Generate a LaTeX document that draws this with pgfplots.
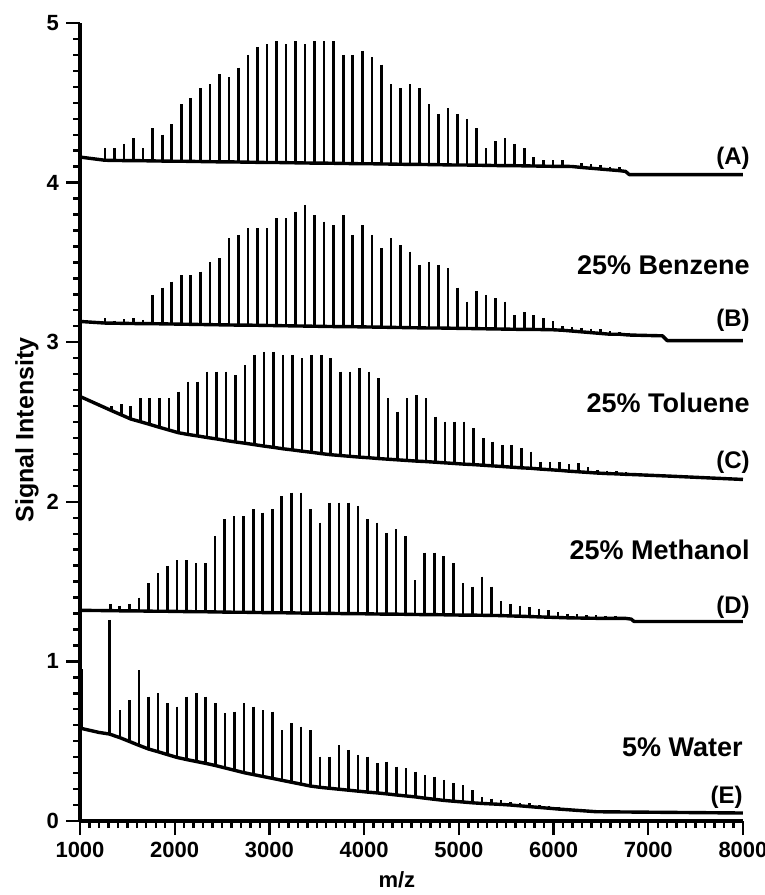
\documentclass[border=0pt]{standalone}
\usepackage{fontspec}
\setmainfont{Liberation Sans}
\usepackage{pgfplots}
\usepackage{pgfplotstable}
\pgfplotsset{compat=1.18}

% columns: x = m/z, b = baseline at the peak foot, p = peak top
\pgfplotstableread{
x b p
1000 4.160 4.160
1264 4.140 4.215
1365 4.139 4.215
1465 4.138 4.242
1566 4.138 4.277
1666 4.137 4.215
1767 4.136 4.340
1868 4.135 4.300
1968 4.134 4.365
2069 4.134 4.490
2169 4.133 4.530
2270 4.132 4.590
2371 4.131 4.615
2471 4.130 4.680
2572 4.130 4.660
2672 4.129 4.720
2773 4.128 4.800
2874 4.127 4.850
2974 4.126 4.866
3075 4.126 4.887
3175 4.125 4.866
3276 4.124 4.887
3377 4.123 4.866
3477 4.122 4.887
3578 4.122 4.887
3678 4.121 4.887
3779 4.120 4.800
3880 4.119 4.800
3980 4.118 4.825
4081 4.118 4.785
4181 4.117 4.740
4282 4.116 4.615
4383 4.115 4.590
4483 4.114 4.615
4584 4.114 4.590
4684 4.113 4.490
4785 4.112 4.430
4886 4.111 4.465
4986 4.110 4.430
5087 4.110 4.400
5187 4.109 4.340
5288 4.108 4.215
5389 4.107 4.260
5489 4.106 4.277
5590 4.106 4.242
5690 4.105 4.215
5791 4.104 4.160
5892 4.103 4.140
5992 4.102 4.140
6093 4.102 4.140
6193 4.101 4.110
6294 4.095 4.120
6394 4.090 4.115
6495 4.085 4.110
6595 4.080 4.100
6696 4.075 4.095
6760 4.070 4.070
6800 4.050 4.050
8000 4.050 4.050
}\tA

\pgfplotstableread{
x b p
1000 3.130 3.130
1264 3.120 3.150
1365 3.119 3.135
1465 3.118 3.145
1566 3.117 3.150
1666 3.116 3.140
1767 3.116 3.296
1868 3.115 3.342
1968 3.114 3.379
2069 3.113 3.421
2169 3.112 3.421
2270 3.111 3.442
2371 3.110 3.504
2471 3.109 3.525
2572 3.108 3.651
2672 3.107 3.672
2773 3.107 3.713
2874 3.106 3.713
2974 3.105 3.713
3075 3.104 3.776
3175 3.103 3.776
3276 3.102 3.818
3377 3.101 3.860
3477 3.100 3.797
3578 3.099 3.755
3678 3.098 3.734
3779 3.098 3.797
3880 3.097 3.672
3980 3.096 3.734
4081 3.095 3.672
4181 3.094 3.588
4282 3.093 3.651
4383 3.092 3.609
4483 3.091 3.567
4584 3.090 3.484
4684 3.089 3.504
4785 3.089 3.484
4886 3.088 3.463
4986 3.087 3.342
5087 3.086 3.254
5187 3.085 3.321
5288 3.084 3.296
5389 3.083 3.275
5489 3.082 3.254
5590 3.081 3.170
5690 3.080 3.187
5791 3.080 3.170
5892 3.079 3.150
5992 3.078 3.130
6093 3.075 3.100
6193 3.070 3.095
6294 3.065 3.090
6394 3.060 3.085
6495 3.055 3.080
6595 3.050 3.070
6696 3.050 3.065
6796 3.045 3.060
7150 3.040 3.040
7200 3.010 3.010
8000 3.010 3.010
}\tB

\pgfplotstableread{
x b p
1000 2.660 2.660
1334 2.571 2.600
1435 2.545 2.610
1535 2.519 2.600
1636 2.502 2.648
1736 2.485 2.648
1837 2.467 2.648
1938 2.450 2.648
2038 2.433 2.690
2139 2.422 2.753
2239 2.413 2.753
2340 2.403 2.815
2441 2.394 2.815
2541 2.384 2.815
2642 2.375 2.794
2742 2.367 2.857
2843 2.358 2.920
2944 2.349 2.940
3044 2.341 2.940
3145 2.332 2.920
3245 2.325 2.920
3346 2.317 2.899
3447 2.310 2.920
3547 2.302 2.920
3648 2.295 2.899
3748 2.290 2.815
3849 2.285 2.815
3950 2.280 2.836
4050 2.276 2.815
4151 2.271 2.774
4251 2.267 2.648
4352 2.263 2.565
4453 2.259 2.648
4553 2.255 2.669
4654 2.252 2.648
4754 2.248 2.533
4855 2.244 2.502
4956 2.240 2.502
5056 2.236 2.502
5157 2.233 2.460
5258 2.229 2.398
5358 2.225 2.377
5459 2.221 2.356
5559 2.217 2.356
5660 2.213 2.335
5761 2.210 2.314
5861 2.205 2.250
5962 2.201 2.250
6062 2.197 2.250
6163 2.192 2.235
6264 2.188 2.240
6364 2.184 2.215
6465 2.180 2.200
6565 2.177 2.195
6666 2.175 2.190
6766 2.172 2.185
6867 2.170 2.180
7260 2.160 2.160
8000 2.140 2.140
}\tC

\pgfplotstableread{
x b p
1000 1.320 1.320
1320 1.318 1.360
1420 1.317 1.350
1521 1.317 1.360
1621 1.316 1.400
1722 1.315 1.489
1823 1.314 1.552
1923 1.314 1.598
2024 1.313 1.635
2124 1.312 1.635
2225 1.311 1.615
2326 1.311 1.615
2426 1.310 1.786
2527 1.309 1.890
2627 1.308 1.911
2728 1.308 1.911
2829 1.307 1.953
2929 1.306 1.932
3030 1.305 1.953
3130 1.305 2.036
3231 1.304 2.057
3332 1.303 2.057
3432 1.302 1.953
3533 1.302 1.869
3633 1.301 1.995
3734 1.300 1.995
3835 1.299 1.995
3935 1.299 1.974
4036 1.298 1.890
4136 1.297 1.869
4237 1.296 1.806
4338 1.296 1.827
4438 1.295 1.786
4539 1.294 1.510
4639 1.293 1.681
4740 1.293 1.681
4841 1.292 1.660
4941 1.291 1.615
5042 1.290 1.489
5142 1.290 1.468
5243 1.289 1.531
5344 1.288 1.468
5444 1.287 1.380
5545 1.285 1.360
5645 1.283 1.350
5746 1.281 1.340
5846 1.279 1.330
5947 1.277 1.320
6048 1.275 1.310
6148 1.273 1.300
6249 1.272 1.295
6349 1.271 1.290
6450 1.270 1.290
6551 1.270 1.285
6651 1.270 1.285
6752 1.270 1.280
6820 1.265 1.265
6850 1.250 1.250
8000 1.250 1.250
}\tD

\pgfplotstableread{
x b p
1000 0.580 0.580
1015 0.580 0.950
1200 0.555 0.555
1310 0.545 1.260
1422 0.522 0.695
1523 0.498 0.758
1623 0.474 0.946
1724 0.451 0.779
1824 0.434 0.800
1925 0.416 0.737
2026 0.398 0.716
2126 0.385 0.779
2227 0.373 0.800
2328 0.361 0.779
2428 0.348 0.737
2529 0.333 0.675
2629 0.318 0.685
2730 0.303 0.737
2830 0.291 0.716
2931 0.279 0.695
3032 0.267 0.685
3132 0.255 0.570
3233 0.243 0.612
3334 0.231 0.591
3434 0.219 0.570
3535 0.211 0.403
3635 0.205 0.403
3736 0.199 0.476
3836 0.193 0.445
3937 0.187 0.414
4038 0.181 0.403
4138 0.176 0.361
4239 0.170 0.372
4340 0.163 0.340
4440 0.157 0.330
4541 0.151 0.309
4641 0.143 0.288
4742 0.136 0.278
4843 0.129 0.257
4943 0.124 0.236
5044 0.119 0.225
5144 0.114 0.194
5245 0.110 0.150
5346 0.107 0.140
5446 0.104 0.130
5547 0.100 0.120
5647 0.095 0.115
5748 0.090 0.110
5849 0.085 0.100
5950 0.080 0.095
6050 0.075 0.090
6456 0.058 0.058
8000 0.050 0.050
}\tE

\newcommand\lab{\fontsize{13.5}{15}\selectfont\bfseries}
\newcommand\tag{\fontsize{12}{14}\selectfont\bfseries}

\pgfplotsset{
  peaks/.style={draw=none, mark=none,
    error bars/.cd, y dir=minus, y explicit, error mark=none,
    error bar style={draw=black, line width=1.3pt}},
  base/.style={black, line width=1.7pt, line join=round, mark=none},
}

\begin{document}
\begin{tikzpicture}
\useasboundingbox (-40pt,-37pt) rectangle (342.5pt,410.5pt);
\begin{axis}[
  at={(0,0)}, anchor=south west,
  scale only axis, width=331.5pt, height=399pt,
  xmin=1000, xmax=8000, ymin=0, ymax=5,
  enlargelimits=false, clip=false,
  axis lines=left,
  axis line style={-, line width=2pt},
  tick align=outside,
  major tick length=7pt, minor tick length=3.5pt,
  every tick/.style={black, line width=1.2pt},
  xtick={1000,2000,3000,4000,5000,6000,7000,8000},
  xticklabels={1000,2000,3000,4000,5000,6000,7000,8000},
  ytick={0,1,2,3,4,5},
  yticklabels={0,1,2,3,4,5},
  minor x tick num=9, minor y tick num=9,
  tick label style={font=\fontsize{11}{13}\selectfont\bfseries},
  xlabel={m/z},
  xlabel style={at={(axis description cs:0.478,-0.074)}, anchor=center,
    font=\fontsize{11}{13}\selectfont\bfseries, inner sep=0pt},
  ylabel={Signal Intensity},
  ylabel style={at={(axis description cs:-0.08,0.49)}, anchor=center,
    font=\fontsize{12.5}{14}\selectfont\bfseries, inner sep=0pt},
]
\addplot[base] table[x=x, y=b] {\tA};
\addplot[peaks] table[x=x, y=p, y error minus expr=\thisrow{p}-\thisrow{b}] {\tA};
\addplot[base] table[x=x, y=b] {\tB};
\addplot[peaks] table[x=x, y=p, y error minus expr=\thisrow{p}-\thisrow{b}] {\tB};
\addplot[base] table[x=x, y=b] {\tC};
\addplot[peaks] table[x=x, y=p, y error minus expr=\thisrow{p}-\thisrow{b}] {\tC};
\addplot[base] table[x=x, y=b] {\tD};
\addplot[peaks] table[x=x, y=p, y error minus expr=\thisrow{p}-\thisrow{b}] {\tD};
\addplot[base] table[x=x, y=b] {\tE};
\addplot[peaks] table[x=x, y=p, y error minus expr=\thisrow{p}-\thisrow{b}] {\tE};

\node[anchor=east, inner sep=0pt, font=\tag] at (axis cs:8075,4.154) {(A)};
\node[anchor=east, inner sep=0pt, font=\lab] at (axis cs:8075,3.484) {25\% Benzene};
\node[anchor=east, inner sep=0pt, font=\tag] at (axis cs:8075,3.139) {(B)};
\node[anchor=east, inner sep=0pt, font=\lab] at (axis cs:8075,2.619) {25\% Toluene};
\node[anchor=east, inner sep=0pt, font=\tag] at (axis cs:8075,2.250) {(C)};
\node[anchor=east, inner sep=0pt, font=\lab] at (axis cs:8075,1.698) {25\% Methanol};
\node[anchor=east, inner sep=0pt, font=\tag] at (axis cs:8075,1.340) {(D)};
\node[anchor=east, inner sep=0pt, font=\lab] at (axis cs:8000,0.464) {5\% Water};
\node[anchor=east, inner sep=0pt, font=\tag] at (axis cs:8000,0.150) {(E)};
\end{axis}
\end{tikzpicture}
\end{document}
